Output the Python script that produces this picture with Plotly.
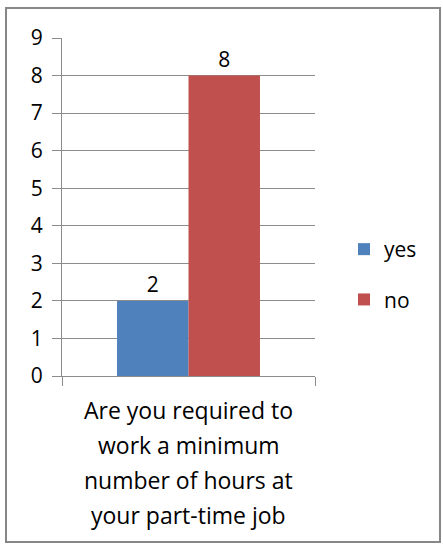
import plotly.graph_objects as go

CATEGORY = "Are you required to work a minimum number of hours at your part-time job"
CATEGORY_LINES = ["Are you required to", "work a minimum", "number of hours at", "your part-time job"]
SERIES = ["yes", "no"]
VALUES = [2, 8]
COLORS = ["#4F81BD", "#C0504D"]
Y_TICKS = list(range(0, 10))

FONT = "Open Sans, sans-serif"
W, H = 443, 550
L, R, T, B = 62, 128, 38, 174
PW, PH = W - L - R, H - T - B

fig = go.Figure()
for name, val, col in zip(SERIES, VALUES, COLORS):
    fig.add_trace(go.Bar(
        x=[CATEGORY], y=[val], name=name, marker=dict(color=col, line=dict(width=0)),
        text=[val], textposition="outside", cliponaxis=False,
        textfont=dict(size=21, color="#000000"), legendgroup=name,
    ))


def py(pix):
    # pixel y from top -> paper fraction
    return (H - B - pix) / PH


def px_(pix):
    return (pix - L) / PW


# category label, one annotation per line to get the wide line spacing
for i, line in enumerate(CATEGORY_LINES):
    fig.add_annotation(text=line, x=0.5, xref="paper", y=py(410 + 35 * i), yref="paper",
                       showarrow=False, yanchor="middle", xanchor="center",
                       font=dict(size=23, color="#000000", family=FONT))

# outer border
fig.add_shape(type="rect", xref="paper", yref="paper",
              x0=px_(6), x1=px_(440), y0=py(542), y1=py(8),
              line=dict(color="#878787", width=2), fillcolor="rgba(0,0,0,0)")

fig.update_layout(
    width=W, height=H,
    margin=dict(l=L, r=R, t=T, b=B, autoexpand=False),
    paper_bgcolor="white", plot_bgcolor="white",
    font=dict(family=FONT, size=20, color="#000000"),
    barmode="group", bargap=0.435, bargroupgap=0,
    showlegend=True,
    legend=dict(x=px_(344), y=py(229), xanchor="left", yanchor="top",
                font=dict(size=21), traceorder="grouped", tracegroupgap=20,
                bgcolor="rgba(0,0,0,0)", itemwidth=30),
)
fig.update_yaxes(range=[0, 9], tickvals=Y_TICKS, showgrid=True, gridcolor="#8C8C8C", gridwidth=1,
                 showline=True, linecolor="#8C8C8C", linewidth=1, ticks="outside", ticklen=9,
                 tickcolor="#8C8C8C", zeroline=False, tickfont=dict(size=21), automargin=False,
                 ticklabelstandoff=5)
fig.update_xaxes(showticklabels=False, showline=True, linecolor="#8C8C8C", linewidth=1,
                 ticks="outside", tickson="boundaries", ticklen=9, tickcolor="#8C8C8C",
                 showgrid=False, automargin=False)

# page body has a default 8px margin; drop it so the figure fills the window
fig.write_html("out.html", config={"displayModeBar": False},
               post_script="document.body.style.margin='0';")
